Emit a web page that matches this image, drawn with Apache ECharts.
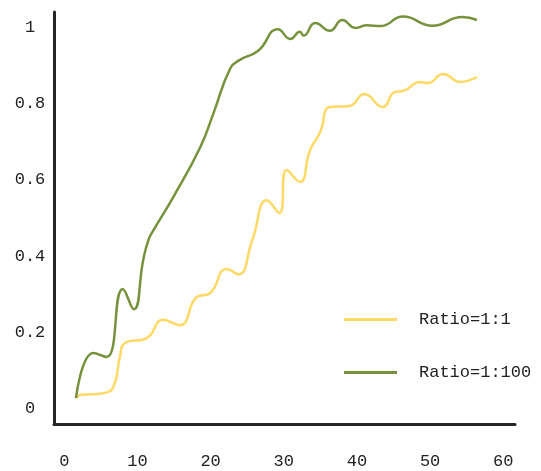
<!DOCTYPE html>
<html>
<head>
<meta charset="utf-8">
<script src="https://cdn.jsdelivr.net/npm/echarts@6/dist/echarts.min.js"></script>
<style>html,body{margin:0;padding:0;background:#fff;}#c{width:541px;height:471px;}</style>
</head>
<body>
<div id="c"></div>
<script>
var xTicks = [0, 10, 20, 30, 40, 50, 60];
var yTicks = [0, 0.2, 0.4, 0.6, 0.8, 1];
var seriesNames = ['Ratio=1:1', 'Ratio=1:100'];
var ratio1x = [1.6, 2.2, 5.3, 6.7, 7.6, 8.3, 11.3, 13.5, 15.8, 18.1, 19.9, 22.2, 23.8, 25.7, 27.7, 29.4, 30.4, 32.2, 33.6, 35.0, 36.3, 39.0, 41.0, 43.5, 45.2, 46.3, 48.6, 49.7, 51.8, 54.1, 56.4];
var ratio1y = [0.026, 0.034, 0.039, 0.055, 0.134, 0.171, 0.184, 0.232, 0.218, 0.292, 0.302, 0.366, 0.352, 0.442, 0.547, 0.513, 0.626, 0.595, 0.679, 0.727, 0.792, 0.795, 0.826, 0.792, 0.832, 0.834, 0.858, 0.855, 0.879, 0.858, 0.871];
var ratio100x = [1.6, 4.0, 5.8, 8.0, 9.5, 10.8, 11.5, 12.2, 14.9, 18.6, 20.4, 22.7, 24.0, 26.5, 29.2, 30.9, 32.2, 32.7, 34.3, 36.3, 38.0, 39.8, 41.4, 43.2, 46.3, 50.3, 54.4, 56.4];
var ratio100y = [0.026, 0.145, 0.134, 0.313, 0.260, 0.390, 0.442, 0.468, 0.555, 0.687, 0.776, 0.894, 0.916, 0.940, 0.997, 0.971, 0.990, 0.980, 1.013, 0.993, 1.021, 1.000, 1.007, 1.005, 1.030, 1.006, 1.029, 1.021];

function pairs(xs, ys) { return xs.map(function (x, i) { return [x, ys[i]]; }); }

var font = '"Liberation Mono", monospace';
var chart = echarts.init(document.getElementById('c'));
chart.setOption({
  animation: false,
  grid: { left: 54, right: 26, top: 12, bottom: 47 },
  xAxis: {
    type: 'value', min: -1.4, max: 61.6,
    axisLine: { show: true, onZero: false, lineStyle: { color: '#262626', width: 3 } },
    axisTick: { show: false },
    splitLine: { show: false },
    axisLabel: { customValues: xTicks, margin: 29, color: '#222', fontFamily: font, fontSize: 17 }
  },
  yAxis: {
    type: 'value', min: -0.0421, max: 1.0421,
    axisLine: { show: true, onZero: false, lineStyle: { color: '#262626', width: 3 } },
    axisTick: { show: false },
    splitLine: { show: false },
    axisLabel: { customValues: yTicks, margin: 24, align: 'center', color: '#222', fontFamily: font, fontSize: 17 }
  },
  legend: {
    orient: 'vertical', left: 344, top: 311, padding: 0, icon: 'rect', itemWidth: 53, itemHeight: 3, itemGap: 36,
    textStyle: { color: '#222', fontFamily: font, fontSize: 17, padding: [0, 0, 0, 17] },
    data: seriesNames
  },
  series: [
    { name: seriesNames[0], type: 'line', smooth: 0.5, symbol: 'none', data: pairs(ratio1x, ratio1y),
      lineStyle: { color: '#FFD966', width: 2.5 }, itemStyle: { color: '#FFD966' } },
    { name: seriesNames[1], type: 'line', smooth: 0.5, symbol: 'none', data: pairs(ratio100x, ratio100y),
      lineStyle: { color: '#76923C', width: 2.5 }, itemStyle: { color: '#76923C' } }
  ]
});
</script>
</body>
</html>
